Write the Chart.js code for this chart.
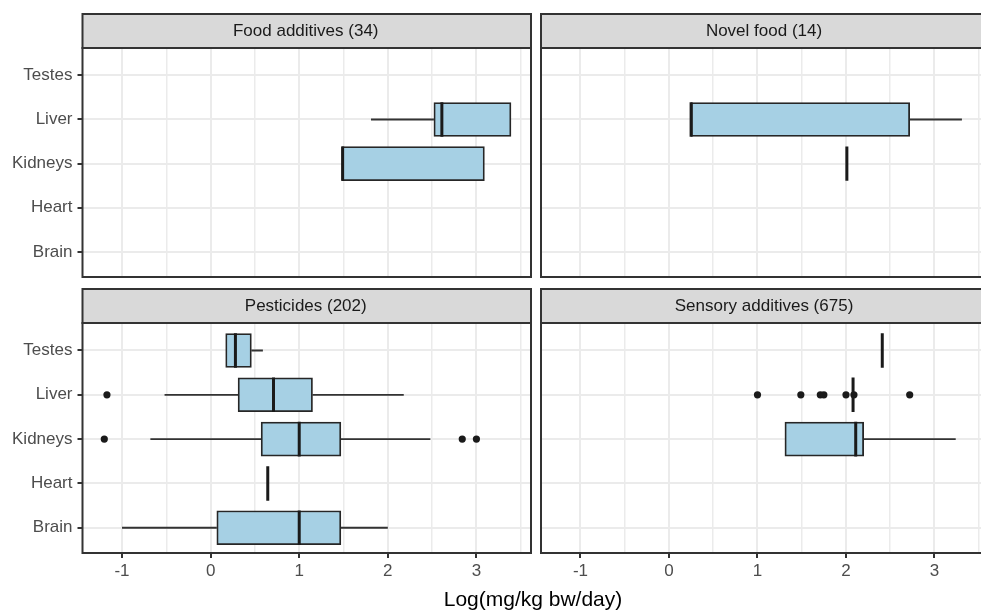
<!DOCTYPE html>
<html>
<head>
<meta charset="utf-8">
<script src="https://cdn.jsdelivr.net/npm/chart.js@4.4.1/dist/chart.umd.min.js"></script>
<style>
  html, body { margin: 0; padding: 0; background: #fff; width: 981px; height: 610px; overflow: hidden; position: relative; }
  canvas { position: absolute; }
  #xtitle { position: absolute; left: 283px; width: 500px; top: 588px; text-align: center;
            font: 21px 'Liberation Sans', Arial, sans-serif; line-height: 21px; color: #000; }
</style>
</head>
<body>
<canvas id="c0" width="540" height="282" style="left:0px;top:0px"></canvas>
<canvas id="c1" width="470" height="282" style="left:531px;top:0px"></canvas>
<canvas id="c2" width="540" height="328" style="left:0px;top:282px"></canvas>
<canvas id="c3" width="470" height="328" style="left:531px;top:282px"></canvas>
<div id="xtitle">Log(mg/kg bw/day)</div>
<script>
// ---------------- data ----------------
const organs = ['Brain', 'Heart', 'Kidneys', 'Liver', 'Testes']; // bottom -> top
const panelTitles = ['Food additives (34)', 'Novel food (14)', 'Pesticides (202)', 'Sensory additives (675)'];
const xTickValues = [-1, 0, 1, 2, 3];
const xGridValues = [-1, -0.5, 0, 0.5, 1, 1.5, 2, 2.5, 3, 3.5];

// Food additives (34)
const foodLow    = [null, null, 1.48, 1.81, null];
const foodQ1     = [null, null, 1.48, 2.52, null];
const foodMedian = [null, null, 1.49, 2.61, null];
const foodQ3     = [null, null, 3.09, 3.39, null];
const foodHigh   = [null, null, 3.09, 3.39, null];
const foodOutOrgan = [];
const foodOutValue = [];

// Novel food (14)
const novelLow    = [null, null, 2.01, 0.25, null];
const novelQ1     = [null, null, 2.01, 0.25, null];
const novelMedian = [null, null, 2.01, 0.25, null];
const novelQ3     = [null, null, 2.01, 2.72, null];
const novelHigh   = [null, null, 2.01, 3.31, null];
const novelOutOrgan = [];
const novelOutValue = [];

// Pesticides (202)
const pestLow    = [-1.00, 0.645, -0.68, -0.52, 0.17];
const pestQ1     = [ 0.07, 0.645,  0.57,  0.31, 0.17];
const pestMedian = [ 1.00, 0.645,  1.00,  0.71, 0.28];
const pestQ3     = [ 1.47, 0.645,  1.47,  1.15, 0.46];
const pestHigh   = [ 2.00, 0.645,  2.48,  2.18, 0.59];
const pestOutOrgan = ['Kidneys', 'Kidneys', 'Kidneys', 'Liver'];
const pestOutValue = [-1.20, 2.84, 3.00, -1.17];

// Sensory additives (675)
const sensLow    = [null, null, 1.31, 2.08, 2.41];
const sensQ1     = [null, null, 1.31, 2.08, 2.41];
const sensMedian = [null, null, 2.11, 2.08, 2.41];
const sensQ3     = [null, null, 2.20, 2.08, 2.41];
const sensHigh   = [null, null, 3.24, 2.08, 2.41];
const sensOutOrgan = ['Liver', 'Liver', 'Liver', 'Liver', 'Liver', 'Liver', 'Liver'];
const sensOutValue = [1.00, 1.49, 1.71, 1.75, 2.00, 2.09, 2.72];

// ---------------- styling ----------------
const FONT = "'Liberation Sans', Arial, sans-serif";
const STRIP_H = 34;
const HALF_BOX = 0.39;
const TITLE_SHIFT = -1;

function buildDatasets(low, q1, med, q3, high, outOrgan, outValue) {
  const whisk = [], boxes = [], medians = [];
  organs.forEach((o, i) => {
    if (med[i] == null) return;
    if (low[i] < q1[i]) whisk.push({x: low[i], y: i}, {x: q1[i], y: i}, {x: null, y: null});
    if (high[i] > q3[i]) whisk.push({x: q3[i], y: i}, {x: high[i], y: i}, {x: null, y: null});
    if (q3[i] > q1[i]) boxes.push({y: i, x: [q1[i], q3[i]]});
    medians.push({x: med[i], y: i - HALF_BOX}, {x: med[i], y: i + HALF_BOX}, {x: null, y: null});
  });
  const outliers = outOrgan.map((o, k) => ({x: outValue[k], y: organs.indexOf(o)}));
  return [
    {type: 'line', data: whisk, borderColor: '#333333', borderWidth: 1.8, pointRadius: 0,
     spanGaps: false, fill: false, order: 4},
    {type: 'bar', indexAxis: 'y', data: boxes, backgroundColor: '#a6d0e4', borderColor: '#262626',
     borderWidth: 1.8, borderSkipped: false, barThickness: 34, order: 3},
    {type: 'line', data: medians, borderColor: '#1a1a1a', borderWidth: 3, pointRadius: 0,
     spanGaps: false, fill: false, order: 2},
    {type: 'scatter', data: outliers, backgroundColor: '#1a1a1a', borderWidth: 0,
     pointRadius: 3.6, order: 1}
  ];
}

function makeScales(showX, showY) {
  return {
    x: {
      type: 'linear', axis: 'x', position: 'bottom', min: -1.446, max: 3.616, offset: false,
      beginAtZero: false,
      afterBuildTicks: ax => { ax.ticks = xGridValues.map(v => ({value: v})); },
      afterFit: ax => { ax.height = showX ? 57 : 0; ax.paddingLeft = 0; ax.paddingRight = 0; },
      grid: {
        offset: false,
        color: '#ebebeb',
        lineWidth: ctx => (ctx.tick && xTickValues.includes(ctx.tick.value)) ? 2 : 1.5,
        drawTicks: showX, tickLength: 5, tickWidth: 2,
        tickColor: ctx => (ctx.tick && xTickValues.includes(ctx.tick.value)) ? '#333333' : 'rgba(0,0,0,0)'
      },
      border: {display: false},
      ticks: {display: showX, autoSkip: false, maxRotation: 0, padding: 3, color: '#4d4d4d',
              font: {family: FONT, size: 17},
              callback: v => xTickValues.includes(v) ? String(v) : ''}
    },
    y: {
      type: 'linear', axis: 'y', position: 'left', min: -0.57, max: 4.62, offset: false,
      beginAtZero: false,
      afterBuildTicks: ax => { ax.ticks = organs.map((o, i) => ({value: i})); },
      afterFit: ax => { ax.width = showY ? 82.5 : 0; ax.paddingTop = 0; ax.paddingBottom = 0; },
      grid: {offset: false, color: '#ebebeb', lineWidth: 2, drawTicks: showY, tickLength: 5, tickWidth: 2,
             tickColor: '#333333'},
      border: {display: false},
      ticks: {display: showY, autoSkip: false, padding: 5, color: '#4d4d4d',
              font: {family: FONT, size: 17}, callback: v => organs[v]}
    }
  };
}

const facetPlugin = {
  id: 'facet',
  afterLayout(chart) {
    const tb = chart.titleBlock, a = chart.chartArea;
    if (tb && a) {
      tb.left = a.left + TITLE_SHIFT; tb.right = a.right + TITLE_SHIFT; tb.width = a.right - a.left;
    }
  },
  beforeDraw(chart) {
    const {ctx, chartArea: a} = chart;
    ctx.save();
    ctx.fillStyle = '#d9d9d9';
    ctx.fillRect(a.left, a.top - STRIP_H, a.right - a.left, STRIP_H);
    ctx.strokeStyle = '#333333';
    ctx.lineWidth = 2;
    ctx.strokeRect(a.left, a.top - STRIP_H, a.right - a.left, STRIP_H);
    ctx.restore();
  },
  afterDraw(chart) {
    const {ctx, chartArea: a} = chart;
    ctx.save();
    ctx.strokeStyle = '#333333';
    ctx.lineWidth = 2;
    ctx.strokeRect(a.left, a.top, a.right - a.left, a.bottom - a.top);
    ctx.restore();
  }
};

function makeChart(id, title, datasets, showX, showY, padding) {
  return new Chart(document.getElementById(id), {
    type: 'scatter',
    data: {datasets},
    options: {
      responsive: false, animation: false, devicePixelRatio: 1,
      layout: {padding},
      scales: makeScales(showX, showY),
      plugins: {
        legend: {display: false}, tooltip: {enabled: false},
        title: {display: true, text: title, color: '#1a1a1a',
                font: {family: FONT, size: 17, weight: 'normal', lineHeight: '20px'},
                padding: {top: 7, bottom: 7}}
      }
    },
    plugins: [facetPlugin]
  });
}

makeChart('c0', panelTitles[0],
  buildDatasets(foodLow, foodQ1, foodMedian, foodQ3, foodHigh, foodOutOrgan, foodOutValue),
  false, true, {top: 14, left: 0, right: 9, bottom: 5});
makeChart('c1', panelTitles[1],
  buildDatasets(novelLow, novelQ1, novelMedian, novelQ3, novelHigh, novelOutOrgan, novelOutValue),
  false, false, {top: 14, left: 10, right: 12, bottom: 5});
makeChart('c2', panelTitles[2],
  buildDatasets(pestLow, pestQ1, pestMedian, pestQ3, pestHigh, pestOutOrgan, pestOutValue),
  true, true, {top: 7, left: 0, right: 9, bottom: 0});
makeChart('c3', panelTitles[3],
  buildDatasets(sensLow, sensQ1, sensMedian, sensQ3, sensHigh, sensOutOrgan, sensOutValue),
  true, false, {top: 7, left: 10, right: 12, bottom: 0});
</script>
</body>
</html>
